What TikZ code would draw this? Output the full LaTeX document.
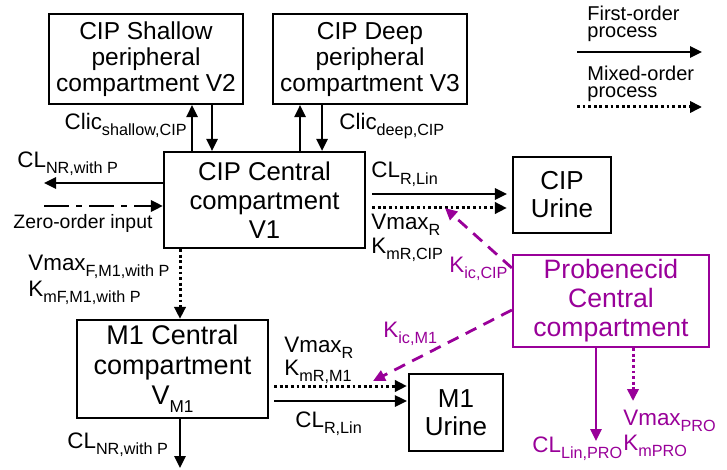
\documentclass[tikz,border=0pt]{standalone}
\usepackage{fontspec}
\setmainfont{Liberation Sans}
\usetikzlibrary{arrows.meta}
\definecolor{prp}{RGB}{153,0,153}
\newcommand{\lsb}[1]{\raisebox{-3pt}{\fontsize{8.1}{8.5}\selectfont #1}}
\newcommand{\bsb}[1]{\raisebox{-4pt}{\fontsize{8.6}{9}\selectfont #1}}
\begin{document}
\begin{tikzpicture}[x=0.5pt,y=-0.5pt,
  box/.style={draw, line width=1.1pt, align=center, inner sep=0pt},
  tip/.style={-{Triangle[length=6pt,width=5.6pt]}},
  fo/.style={line width=1.1pt, tip},
  mo/.style={line width=1.5pt, dash pattern=on 1.4pt off 1.4pt, tip},
  zo/.style={line width=1.4pt, dash pattern=on 12.5pt off 3.5pt on 3pt off 3.5pt, tip},
  kic/.style={prp, line width=1.4pt, dash pattern=on 6pt off 4pt, tip},
  lbl/.style={inner sep=0pt, font=\fontsize{11.2}{12}\selectfont},
  leg/.style={inner sep=0pt, align=left, font=\fontsize{10}{8.5}\selectfont},
]
\fill[white] (0,0) rectangle (727,470);
\useasboundingbox (0,0) rectangle (727,470);

% boxes
\node[box, minimum width=97pt, minimum height=45pt, font=\fontsize{12.25}{13}\selectfont] (V2) at (146,59)
  {CIP Shallow\\peripheral\\compartment V2};
\node[box, minimum width=97pt, minimum height=45pt, font=\fontsize{12.25}{13}\selectfont] (V3) at (370,59)
  {CIP Deep\\peripheral\\compartment V3};
\node[box, minimum width=100.5pt, minimum height=48pt, font=\fontsize{12.85}{14.5}\selectfont] (C1) at (264.5,200)
  {CIP Central\\compartment\\V1};
\node[box, minimum width=49pt, minimum height=38pt, font=\fontsize{13}{14}\selectfont] (CU) at (562,195)
  {CIP\\Urine};
\node[box, draw=prp, text=prp, minimum width=98pt, minimum height=46pt, font=\fontsize{13.3}{14.5}\selectfont] (PRO) at (611,301)
  {Probenecid\\Central\\compartment};
\node[box, minimum width=95.5pt, minimum height=49pt, font=\fontsize{13.5}{15}\selectfont] (M1) at (172.5,369)
  {M1 Central\\compartment\\V\bsb{M1}};
\node[box, minimum width=47pt, minimum height=38.5pt, font=\fontsize{13}{14}\selectfont] (MU) at (456,412.5)
  {M1\\Urine};

% free ends
\coordinate (clnr) at (44,183);
\coordinate (zin) at (44,206);
\coordinate (m1out) at (180,468);
\coordinate (proout) at (596,441);
\coordinate (promo) at (633,401);
\coordinate (kcip) at (445,208);
\coordinate (km1) at (373,381);
\coordinate (l1a) at (577,52);
\coordinate (l1b) at (702,52);
\coordinate (l2a) at (577,107);
\coordinate (l2b) at (702,107);

% peripheral exchange
\draw[fo] (192,0 |- C1.north) -- (192,0 |- V2.south);
\draw[fo] (212,0 |- V2.south) -- (212,0 |- C1.north);
\draw[fo] (300,0 |- C1.north) -- (300,0 |- V3.south);
\draw[fo] (322,0 |- V3.south) -- (322,0 |- C1.north);

% central left
\draw[fo] (C1.west |- clnr) -- (clnr);
\draw[zo] (zin) -- (C1.west |- zin);

% central to urine
\draw[fo, shorten <=3pt, shorten >=2.5pt] (C1.east |- 0,194) -- (CU.west |- 0,194);
\draw[mo, shorten <=3pt, shorten >=2.5pt] (C1.east |- 0,208) -- (CU.west |- 0,208);

% central to M1
\draw[mo] (180,0 |- C1.south) -- (180,0 |- M1.north);

% M1 to urine
\draw[mo, shorten <=2.5pt, shorten >=0.5pt] (M1.east |- 0,386) -- (MU.west |- 0,386);
\draw[fo, shorten <=2.5pt, shorten >=0.5pt] (M1.east |- 0,401) -- (MU.west |- 0,401);
\draw[fo] (180,0 |- M1.south) -- (m1out);

% probenecid
\draw[fo, prp] (596,0 |- PRO.south) -- (proout);
\draw[mo, prp] (633,0 |- PRO.south) -- (promo);
\draw[kic] (PRO.west |- 0,268) -- (kcip);
\draw[kic] (PRO.west |- 0,310) -- (km1);

% legend
\draw[fo] (l1a) -- (l1b);
\draw[mo] (l2a) -- (l2b);
\node[leg, anchor=north west] (lg1) at (587,5.5) {First-order\\process};
\node[leg, anchor=north west] (lg2) at (587,65.5) {Mixed-order\\process};

% labels
\node[lbl, anchor=base east] (lsh) at (187,130) {Clic\lsb{shallow,CIP}};
\node[lbl, anchor=base west] (ldp) at (339,130) {Clic\lsb{deep,CIP}};
\node[lbl, anchor=base west] (lnr) at (17,168) {CL\lsb{NR,with P}};
\node[inner sep=0pt, anchor=base west, font=\fontsize{9.7}{11}\selectfont] (lzo) at (13,228) {Zero-order input};
\node[lbl, anchor=base west] (lrl) at (371,178) {CL\lsb{R,Lin}};
\node[lbl, anchor=base west] (lvr) at (371,229) {Vmax\lsb{R}};
\node[lbl, anchor=base west] (lkr) at (371,253) {K\lsb{mR,CIP}};
\node[lbl, anchor=base west, text=prp] (lkic) at (449,272) {K\lsb{ic,CIP}};
\node[lbl, anchor=base west, text=prp] (lkim) at (383,337) {K\lsb{ic,M1}};
\node[lbl, anchor=base west] (lvf) at (28,270) {Vmax\lsb{F,M1,with P}};
\node[lbl, anchor=base west] (lkf) at (28,296) {K\lsb{mF,M1,with P}};
\node[lbl, anchor=base west] (lvm) at (284,352) {Vmax\lsb{R}};
\node[lbl, anchor=base west] (lkm) at (284,375) {K\lsb{mR,M1}};
\node[lbl, anchor=base west] (lrm) at (295,427) {CL\lsb{R,Lin}};
\node[lbl, anchor=base west] (lnm) at (67,448) {CL\lsb{NR,with P}};
\node[lbl, anchor=base west, text=prp] (llp) at (532,452) {CL\lsb{Lin,PRO}};
\node[lbl, anchor=base west, text=prp] (lvp) at (623,425) {Vmax\lsb{PRO}};
\node[lbl, anchor=base west, text=prp] (lkp) at (623,450) {K\lsb{mPRO}};
\end{tikzpicture}
\end{document}
